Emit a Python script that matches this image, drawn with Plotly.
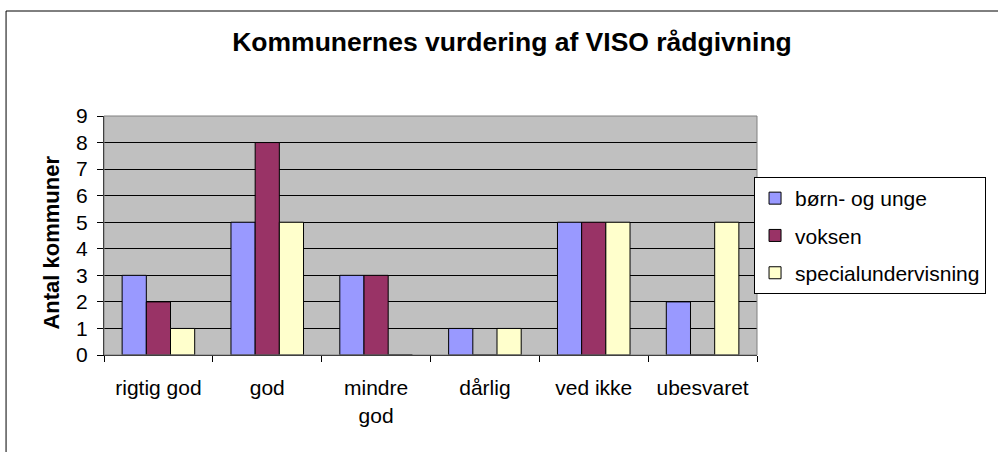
import plotly.graph_objects as go

categories = ["rigtig god", "god", "mindre<br>god", "dårlig", "ved ikke", "ubesvaret"]
born_og_unge = [3, 5, 3, 1, 5, 2]
voksen = [2, 8, 3, 0, 5, 0]
specialundervisning = [1, 5, 0, 1, 5, 5]

series_names = ["børn- og unge", "voksen", "specialundervisning"]
series_values = [born_og_unge, voksen, specialundervisning]
colors = ["#9999FF", "#993366", "#FFFFCC"]

FONT = "Liberation Sans, Arial, sans-serif"

fig = go.Figure()
for i, (name, vals, col) in enumerate(zip(series_names, series_values, colors)):
    fig.add_trace(go.Bar(
        x=categories, y=vals, name=name, legendgroup=f"g{i}",
        marker=dict(color=col, line=dict(color="black", width=1)),
    ))

W, H = 998, 452
L, R, T, B = 104, 998 - 764, 116, 452 - 355
PW, PH = W - L - R, H - T - B

fig.update_layout(
    width=W, height=H,
    margin=dict(l=L, r=R, t=T, b=B, pad=0),
    paper_bgcolor="white",
    plot_bgcolor="#C0C0C0",
    barmode="group",
    bargap=1/3,
    bargroupgap=0,
    font=dict(family=FONT, size=21, color="black"),
    title=dict(
        text="<b>Kommunernes vurdering af VISO rådgivning</b>",
        font=dict(family=FONT, size=26.5, color="black"),
        x=512 / W, xanchor="center", y=1 - 42 / H, yanchor="middle",
    ),
    legend=dict(
        x=(761 - L) / PW, xanchor="left",
        y=(355 - 177) / PH, yanchor="top",
        bordercolor="black", borderwidth=1, bgcolor="white",
        font=dict(family=FONT, size=21),
        traceorder="grouped", tracegroupgap=7,
        itemwidth=30,
    ),
    xaxis=dict(
        showline=True, linecolor="black", linewidth=1,
        ticks="outside", ticklen=6, tickcolor="black",
        tickson="boundaries",
        showgrid=False,
        tickfont=dict(family=FONT, size=21),
        ticklabelstandoff=14,
    ),
    yaxis=dict(
        range=[0, 9], dtick=1, tick0=0,
        showline=True, linecolor="black", linewidth=1,
        ticks="outside", ticklen=6, tickcolor="black",
        showgrid=True, gridcolor="black", gridwidth=1,
        zeroline=False,
        tickfont=dict(family=FONT, size=21),
        ticklabelstandoff=5,
    ),
    annotations=[
        dict(text="<b>Antal kommuner</b>", xref="paper", yref="paper",
             x=(50 - L) / PW, y=(355 - 243) / PH, xanchor="center", yanchor="middle",
             textangle=-90, showarrow=False, font=dict(family=FONT, size=22)),
    ],
    shapes=[
        dict(type="rect", xref="paper", yref="paper", x0=0, x1=1, y0=0, y1=1,
             line=dict(color="#808080", width=1), fillcolor="rgba(0,0,0,0)", layer="above"),
        dict(type="rect", xref="paper", yref="paper",
             x0=(5 - L) / PW, x1=(1010 - L) / PW,
             y0=(355 - 470) / PH, y1=(355 - 11) / PH,
             line=dict(color="black", width=1), fillcolor="rgba(0,0,0,0)", layer="above"),
    ],
)

fig.write_html(
    "out.html",
    config={"displayModeBar": False},
    post_script="document.body.style.margin='0';document.body.style.overflow='hidden';document.documentElement.style.overflow='hidden';",
)
